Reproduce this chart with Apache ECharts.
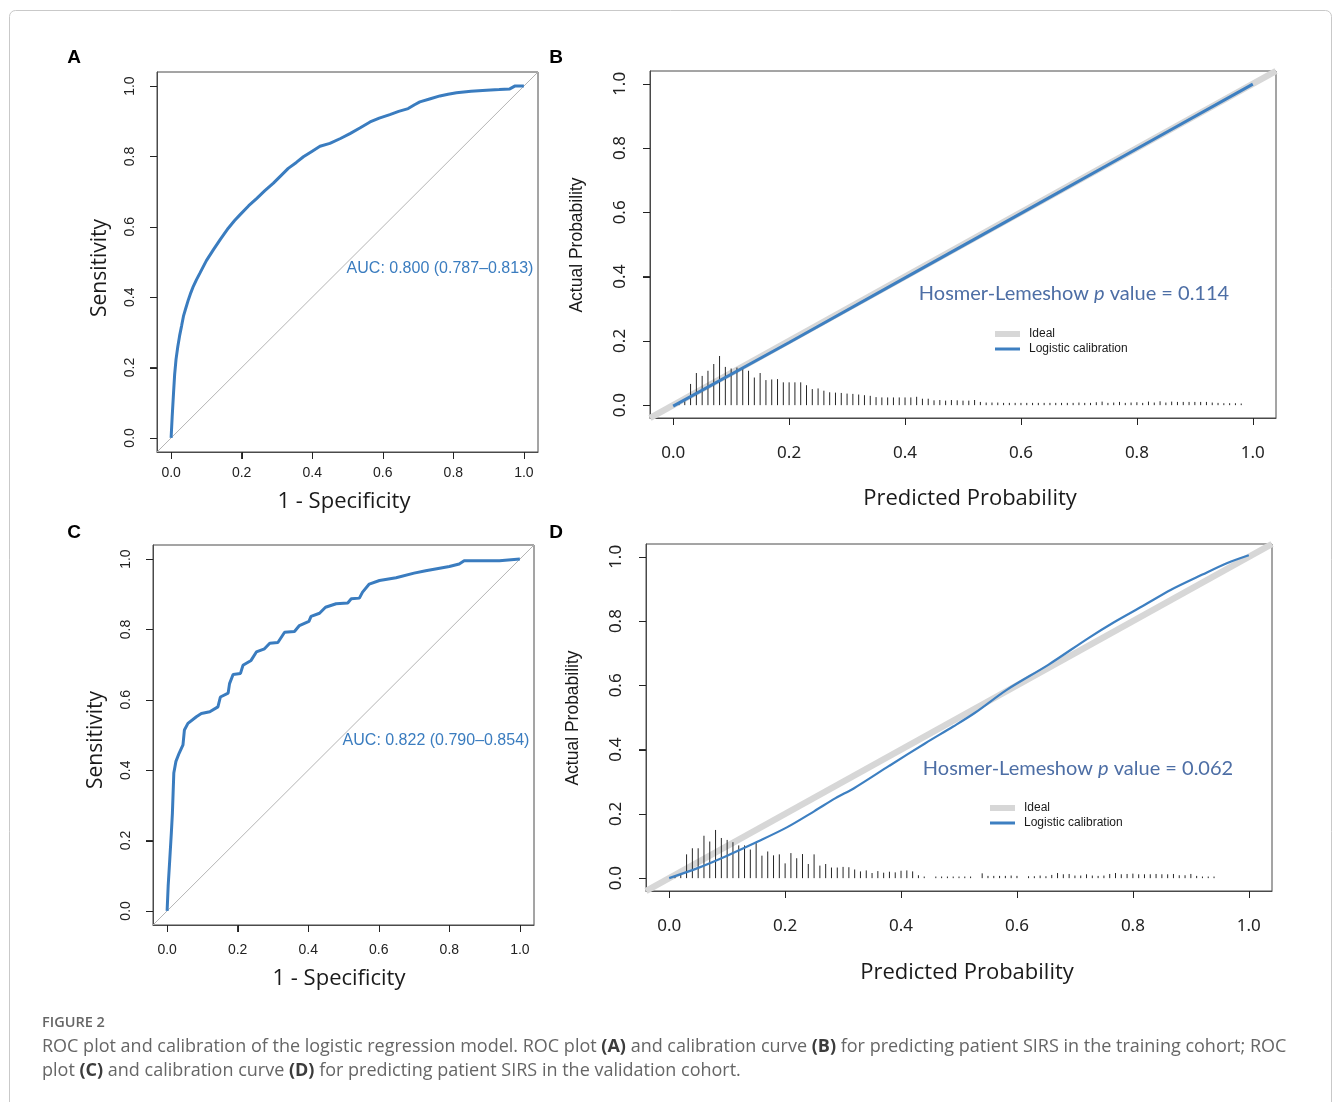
<!DOCTYPE html>
<html>
<head>
<meta charset="utf-8">
<script src="https://cdn.jsdelivr.net/npm/echarts@6/dist/echarts.min.js"></script>
<style>
html,body{margin:0;padding:0;background:#fff;}
#chart{width:1335px;height:1102px;}
</style>
</head>
<body>
<div id="chart"></div>
<script>
// ---------- DATA ----------
const tickValues = [0, 0.2, 0.4, 0.6, 0.8, 1.0];

// Panel A: ROC, training cohort
const rocA_fpr  = [0, 0.003, 0.007, 0.01, 0.014, 0.019, 0.024, 0.03, 0.035, 0.042, 0.049, 0.056, 0.063, 0.072, 0.082, 0.1, 0.12, 0.14, 0.162, 0.18, 0.195, 0.22, 0.243, 0.265, 0.29, 0.31, 0.332, 0.355, 0.375, 0.4, 0.422, 0.45, 0.48, 0.507, 0.535, 0.564, 0.59, 0.62, 0.645, 0.672, 0.69, 0.705, 0.735, 0.762, 0.785, 0.809, 0.85, 0.894, 0.93, 0.96, 0.974, 1.0];
const rocA_sens = [0, 0.06, 0.13, 0.18, 0.224, 0.26, 0.29, 0.32, 0.346, 0.37, 0.393, 0.413, 0.431, 0.45, 0.469, 0.504, 0.535, 0.565, 0.596, 0.618, 0.634, 0.66, 0.681, 0.702, 0.724, 0.744, 0.766, 0.783, 0.799, 0.815, 0.829, 0.837, 0.851, 0.865, 0.881, 0.898, 0.909, 0.919, 0.928, 0.936, 0.947, 0.955, 0.964, 0.972, 0.977, 0.981, 0.985, 0.988, 0.99, 0.992, 1.0, 1.0];
const aucA = "AUC: 0.800 (0.787\u20130.813)";

// Panel C: ROC, validation cohort
const rocC_fpr  = [0, 0.003, 0.0075, 0.012, 0.015, 0.019, 0.025, 0.034, 0.045, 0.049, 0.059, 0.083, 0.097, 0.121, 0.144, 0.151, 0.173, 0.177, 0.187, 0.208, 0.215, 0.238, 0.253, 0.276, 0.291, 0.314, 0.333, 0.361, 0.375, 0.402, 0.408, 0.432, 0.449, 0.479, 0.512, 0.522, 0.545, 0.554, 0.573, 0.602, 0.649, 0.7, 0.733, 0.8, 0.828, 0.842, 0.942, 0.947, 1.0];
const rocC_sens = [0, 0.071, 0.146, 0.222, 0.278, 0.392, 0.425, 0.448, 0.472, 0.514, 0.533, 0.552, 0.561, 0.566, 0.58, 0.608, 0.619, 0.646, 0.672, 0.675, 0.698, 0.712, 0.736, 0.745, 0.761, 0.763, 0.792, 0.794, 0.811, 0.823, 0.837, 0.846, 0.863, 0.873, 0.875, 0.887, 0.889, 0.906, 0.929, 0.939, 0.947, 0.96, 0.967, 0.979, 0.986, 0.995, 0.995, 1.0, 1.0];
const aucC = "AUC: 0.822 (0.790\u20130.854)";

// Panel B: calibration, training cohort
const calB_pred = [0, 0.2, 0.4, 0.6, 0.8, 1.0];
const calB_act  = [-0.003, 0.195, 0.396, 0.597, 0.798, 0.999];
const spikeB_x = [0.01,0.02,0.03,0.04,0.05,0.06,0.07,0.08,0.09,0.10,0.11,0.12,0.13,0.14,0.15,0.16,0.17,0.18,0.19,0.20,0.21,0.22,0.23,0.24,0.25,0.26,0.27,0.28,0.29,0.30,0.31,0.32,0.33,0.34,0.35,0.36,0.37,0.38,0.39,0.40,0.41,0.42,0.43,0.44,0.45,0.46,0.47,0.48,0.49,0.50,0.51,0.52,0.53,0.54,0.55,0.56,0.57,0.58,0.59,0.60,0.61,0.62,0.63,0.64,0.65,0.66,0.67,0.68,0.69,0.70,0.71,0.72,0.73,0.74,0.75,0.76,0.77,0.78,0.79,0.80,0.81,0.82,0.83,0.84,0.85,0.86,0.87,0.88,0.89,0.90,0.91,0.92,0.93,0.94,0.95,0.96,0.97,0.98];
const spikeB_h = [0.005,0.012,0.066,0.100,0.091,0.107,0.128,0.153,0.119,0.114,0.117,0.117,0.107,0.086,0.100,0.078,0.080,0.081,0.071,0.071,0.071,0.071,0.062,0.050,0.052,0.045,0.040,0.039,0.038,0.036,0.035,0.033,0.031,0.029,0.025,0.024,0.024,0.024,0.024,0.024,0.024,0.026,0.020,0.020,0.015,0.016,0.014,0.016,0.015,0.014,0.014,0.016,0.010,0.008,0.008,0.008,0.007,0.007,0.007,0.007,0.007,0.007,0.007,0.007,0.007,0.007,0.007,0.007,0.007,0.008,0.007,0.007,0.009,0.011,0.007,0.008,0.010,0.007,0.008,0.009,0.007,0.011,0.008,0.012,0.008,0.011,0.010,0.010,0.010,0.010,0.010,0.010,0.008,0.007,0.006,0.006,0.006,0.005];
const hlB = "0.114";

// Panel D: calibration, validation cohort
const calD_pred = [0, 0.05, 0.1, 0.153, 0.203, 0.25, 0.287, 0.319, 0.38, 0.442, 0.49, 0.527, 0.583, 0.654, 0.724, 0.766, 0.82, 0.865, 0.92, 0.963, 1.0];
const calD_act  = [0, 0.032, 0.07, 0.114, 0.158, 0.208, 0.249, 0.28, 0.35, 0.42, 0.472, 0.514, 0.587, 0.664, 0.748, 0.795, 0.85, 0.897, 0.945, 0.981, 1.005];
const spikeD_x = [0.01,0.02,0.03,0.04,0.05,0.06,0.07,0.08,0.09,0.10,0.11,0.12,0.13,0.14,0.15,0.16,0.17,0.18,0.19,0.20,0.21,0.22,0.23,0.24,0.25,0.26,0.27,0.28,0.29,0.30,0.31,0.32,0.33,0.34,0.35,0.36,0.37,0.38,0.39,0.40,0.41,0.42,0.43,0.44,0.46,0.47,0.48,0.49,0.50,0.51,0.52,0.54,0.55,0.56,0.57,0.58,0.59,0.60,0.62,0.63,0.64,0.65,0.66,0.67,0.68,0.69,0.70,0.71,0.72,0.73,0.74,0.75,0.76,0.77,0.78,0.79,0.80,0.81,0.82,0.83,0.84,0.85,0.86,0.87,0.88,0.89,0.90,0.91,0.92,0.93,0.94];
const spikeD_h = [0.005,0.010,0.074,0.093,0.093,0.132,0.114,0.150,0.125,0.119,0.112,0.102,0.102,0.089,0.109,0.070,0.083,0.071,0.074,0.046,0.078,0.062,0.075,0.044,0.074,0.039,0.044,0.033,0.033,0.035,0.034,0.027,0.021,0.024,0.016,0.022,0.017,0.020,0.018,0.023,0.024,0.021,0.009,0.005,0.005,0.005,0.005,0.005,0.005,0.005,0.005,0.015,0.007,0.007,0.007,0.007,0.008,0.007,0.006,0.006,0.008,0.006,0.010,0.016,0.012,0.013,0.008,0.008,0.012,0.008,0.007,0.008,0.013,0.016,0.012,0.013,0.014,0.012,0.012,0.012,0.013,0.012,0.012,0.013,0.009,0.009,0.013,0.007,0.005,0.005,0.005];
const hlD = "0.062";

const panelLetters = ["A", "B", "C", "D"];
const captionHead = "FIGURE 2";

// ---------- CHART ----------
const zip = (a, b) => a.map((v, i) => [v, b[i]]);
const ROC_BLUE = '#3a7cbf';
const CAL_BLUE = '#3d7fc1';
const IDEAL_GRAY = '#d7d7d7';
const FRAME = '#4a4a4a';
const AX_MIN = -0.04, AX_MAX = 1.04;

const gridBoxes = [
  {left: 157, top: 72, width: 381, height: 380},   // A
  {left: 650, top: 71, width: 626, height: 347},   // B
  {left: 153, top: 545, width: 381, height: 380},  // C
  {left: 646, top: 544, width: 626, height: 347}   // D
];
const grids = gridBoxes.map(g => Object.assign({}, g, {show: true, borderColor: FRAME, borderWidth: 1, containLabel: false}));

function xAx(gi, fontSize, fontFamily, margin) {
  return {
    type: 'value', gridIndex: gi, min: AX_MIN, max: AX_MAX, position: 'bottom',
    axisLine: {show: true, onZero: false, lineStyle: {color: FRAME, width: 1}},
    splitLine: {show: false},
    axisTick: {show: true, inside: false, customValues: tickValues, length: 7, lineStyle: {color: '#333', width: 1}},
    axisLabel: {show: true, customValues: tickValues, margin: margin, fontSize: fontSize, fontFamily: fontFamily, color: '#222',
      formatter: v => v.toFixed(1)}
  };
}
function yAx(gi, fontSize, fontFamily, margin) {
  return {
    type: 'value', gridIndex: gi, min: AX_MIN, max: AX_MAX, position: 'left',
    axisLine: {show: true, onZero: false, lineStyle: {color: FRAME, width: 1}},
    splitLine: {show: false},
    axisTick: {show: true, inside: false, customValues: tickValues, length: 7, lineStyle: {color: '#333', width: 1}},
    axisLabel: {show: true, customValues: tickValues, margin: margin, rotate: 90, fontSize: fontSize, fontFamily: fontFamily, color: '#222',
      formatter: v => v.toFixed(1)}
  };
}

function diag(gi) {
  return {type: 'line', xAxisIndex: gi, yAxisIndex: gi, data: [[AX_MIN, AX_MIN], [AX_MAX, AX_MAX]],
    showSymbol: false, silent: true, lineStyle: {color: '#b4b4b4', width: 1}, z: 1};
}
function ideal(gi) {
  return {type: 'line', xAxisIndex: gi, yAxisIndex: gi, data: [[AX_MIN, AX_MIN], [AX_MAX, AX_MAX]],
    showSymbol: false, silent: true, lineStyle: {color: IDEAL_GRAY, width: 6.5}, z: 1};
}
function spikes(gi, xs, hs) {
  return {type: 'custom', xAxisIndex: gi, yAxisIndex: gi, data: zip(xs, hs), silent: true, z: 2,
    renderItem: function (params, api) {
      const x = api.value(0), h = api.value(1);
      const p0 = api.coord([x, 0]);
      const p1 = api.coord([x, h]);
      return {type: 'line', shape: {x1: p0[0], y1: p0[1], x2: p1[0], y2: p1[1]},
        style: {stroke: '#262626', lineWidth: 1}};
    }};
}
function curve(gi, xs, ys, color, width, smooth) {
  return {type: 'line', xAxisIndex: gi, yAxisIndex: gi, data: zip(xs, ys), showSymbol: false,
    silent: true, smooth: smooth, lineStyle: {color: color, width: width}, z: 3};
}

const TXT = '#1a1a1a';
function text(x, y, str, font, fill, opts) {
  return Object.assign({type: 'text', x: x, y: y, silent: true,
    style: {text: str, font: font, fill: fill, align: 'center', verticalAlign: 'middle'}}, opts || {});
}
function vtext(x, y, str, font, fill) {
  return {type: 'text', x: x, y: y, rotation: Math.PI / 2, silent: true,
    style: {text: str, font: font, fill: fill, align: 'center', verticalAlign: 'middle'}};
}
function hlText(x, y, val) {
  return {type: 'text', x: x, y: y, silent: true,
    style: {
      text: '{n|Hosmer-Lemeshow }{i|p}{n| value = ' + val + '}',
      align: 'center', verticalAlign: 'middle',
      rich: {
        n: {fontSize: 20, fontFamily: 'Lato', fill: '#4d6ea5', fontStyle: 'normal'},
        i: {fontSize: 20, fontFamily: 'Lato', fill: '#4d6ea5', fontStyle: 'italic'}
      }
    }};
}
function legend(x, y) {
  return [
    {type: 'line', silent: true, shape: {x1: x, y1: y, x2: x + 25, y2: y}, style: {stroke: IDEAL_GRAY, lineWidth: 6}},
    {type: 'line', silent: true, shape: {x1: x, y1: y + 15, x2: x + 25, y2: y + 15}, style: {stroke: CAL_BLUE, lineWidth: 3}},
    {type: 'text', silent: true, x: x + 34, y: y, style: {text: 'Ideal', font: '12px "Liberation Sans"', fill: TXT, align: 'left', verticalAlign: 'middle'}},
    {type: 'text', silent: true, x: x + 34, y: y + 15, style: {text: 'Logistic calibration', font: '12px "Liberation Sans"', fill: TXT, align: 'left', verticalAlign: 'middle'}}
  ];
}

// Outward R-style tick marks along each grid's bottom and left edges (linear axis mapping of the grid box)
function tickMarks() {
  const out = [];
  gridBoxes.forEach(g => {
    const span = AX_MAX - AX_MIN;
    const bottom = g.top + g.height;
    tickValues.forEach(v => {
      const px = Math.round(g.left + (v - AX_MIN) / span * g.width) + 0.5;
      const py = Math.round(bottom - (v - AX_MIN) / span * g.height) + 0.5;
      out.push({type: 'line', silent: true, z: 100, shape: {x1: px, y1: bottom, x2: px, y2: bottom + 7}, style: {stroke: '#222', lineWidth: 1}});
      out.push({type: 'line', silent: true, z: 100, shape: {x1: g.left, y1: py, x2: g.left - 7, y2: py}, style: {stroke: '#222', lineWidth: 1}});
    });
  });
  return out;
}

const captionRich = {
  n: {fontSize: 18, fontFamily: 'Open Sans', fill: '#666666'},
  b: {fontSize: 18, fontFamily: 'Open Sans', fill: '#3c3c3c', fontWeight: 'bold'}
};

const graphics = [
  {type: 'rect', silent: true, shape: {x: 9.5, y: 10.5, width: 1322, height: 1120, r: 6}, style: {fill: 'rgba(0,0,0,0)', stroke: '#c9c9c9', lineWidth: 1}},
  text(74, 58, panelLetters[0], 'bold 19px "Liberation Sans"', '#000'),
  text(556, 58, panelLetters[1], 'bold 19px "Liberation Sans"', '#000'),
  text(74, 533, panelLetters[2], 'bold 19px "Liberation Sans"', '#000'),
  text(556, 533, panelLetters[3], 'bold 19px "Liberation Sans"', '#000'),
  vtext(100, 268, 'Sensitivity', '21px "Open Sans"', TXT),
  vtext(96, 740, 'Sensitivity', '21px "Open Sans"', TXT),
  text(344, 502, '1 - Specificity', '22px "Open Sans"', TXT),
  text(339, 979, '1 - Specificity', '22px "Open Sans"', TXT),
  vtext(577, 245, 'Actual Probability', '17.5px "Liberation Sans"', TXT),
  vtext(573, 718, 'Actual Probability', '17.5px "Liberation Sans"', TXT),
  text(970, 499, 'Predicted Probability', '22px "Open Sans"', TXT),
  text(967, 973, 'Predicted Probability', '22px "Open Sans"', TXT),
  text(440, 269, aucA, '16px "Liberation Sans"', ROC_BLUE),
  text(436, 741, aucC, '16px "Liberation Sans"', ROC_BLUE),
  hlText(1074, 294, hlB),
  hlText(1078, 769, hlD),
  ...legend(995, 334),
  ...legend(990, 808),
  {type: 'text', silent: true, x: 42, y: 1023, style: {text: captionHead, font: '600 14.5px "Open Sans"', fill: '#666', align: 'left', verticalAlign: 'middle'}},
  {type: 'text', silent: true, x: 42, y: 1047, style: {
    text: '{n|ROC plot and calibration of the logistic regression model. ROC plot }{b|(A)}{n| and calibration curve }{b|(B)}{n| for predicting patient SIRS in the training cohort; ROC}',
    align: 'left', verticalAlign: 'middle', rich: captionRich}},
  {type: 'text', silent: true, x: 42, y: 1071, style: {
    text: '{n|plot }{b|(C)}{n| and calibration curve }{b|(D)}{n| for predicting patient SIRS in the validation cohort.}',
    align: 'left', verticalAlign: 'middle', rich: captionRich}},
  ...tickMarks()
];

const option = {
  animation: false,
  backgroundColor: '#fff',
  grid: grids,
  xAxis: [
    xAx(0, 14, 'Liberation Sans', 14),
    xAx(1, 17, 'Noto Sans', 27),
    xAx(2, 14, 'Liberation Sans', 18),
    xAx(3, 17, 'Noto Sans', 27)
  ],
  yAxis: [
    yAx(0, 14, 'Liberation Sans', 20),
    yAx(1, 17, 'Noto Sans', 21),
    yAx(2, 14, 'Liberation Sans', 20),
    yAx(3, 17, 'Noto Sans', 21)
  ],
  series: [
    diag(0), curve(0, rocA_fpr, rocA_sens, ROC_BLUE, 3, false),
    ideal(1), spikes(1, spikeB_x, spikeB_h), curve(1, calB_pred, calB_act, CAL_BLUE, 3, false),
    diag(2), curve(2, rocC_fpr, rocC_sens, ROC_BLUE, 3, false),
    ideal(3), spikes(3, spikeD_x, spikeD_h), curve(3, calD_pred, calD_act, CAL_BLUE, 2.2, 0.3)
  ],
  graphic: graphics
};

const chart = echarts.init(document.getElementById('chart'), null, {renderer: 'canvas'});
chart.setOption(option);
</script>
</body>
</html>
